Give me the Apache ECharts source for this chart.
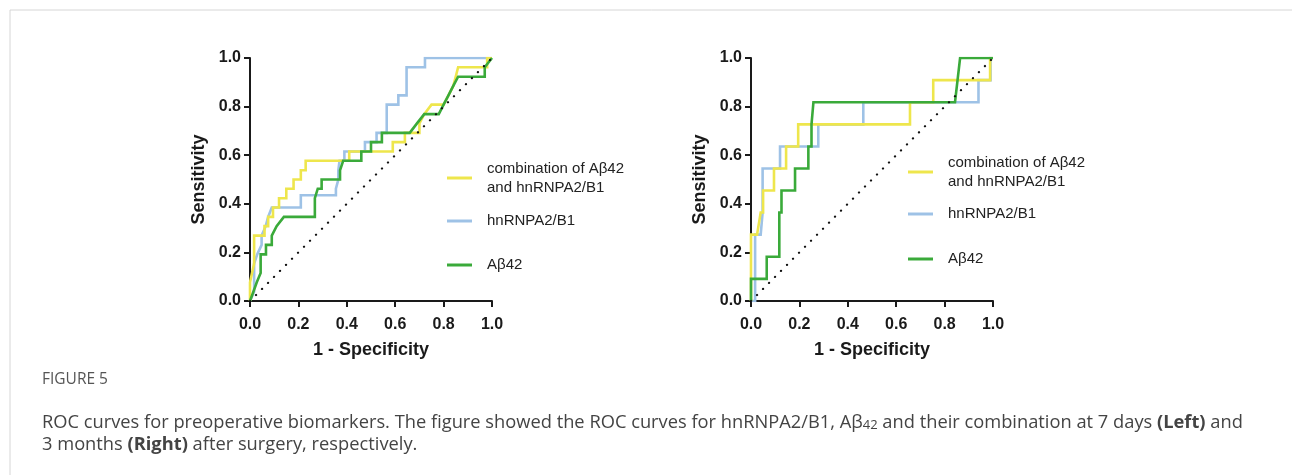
<!DOCTYPE html>
<html><head><meta charset="utf-8">
<script src="https://cdn.jsdelivr.net/npm/echarts@6/dist/echarts.min.js"></script>
<style>html,body{margin:0;padding:0;background:#fff}#c{width:1292px;height:475px}</style>
</head><body><div id="c"></div>
<script>
// ---- data: ROC points [1 - specificity, sensitivity] ----
const xTicks = [0, 0.2, 0.4, 0.6, 0.8, 1.0];
const yTicks = [0, 0.2, 0.4, 0.6, 0.8, 1.0];
const seriesNames = ['combination of A\u03b242\nand hnRNPA2/B1', 'hnRNPA2/B1', 'A\u03b242'];
const refLine = [[0, 0], [1, 1]];

// Left panel: 7 days
const leftCombination = [[0,0],[0,0.077],[0.017,0.154],[0.017,0.269],[0.06,0.269],[0.06,0.308],[0.075,0.308],[0.075,0.346],[0.095,0.346],[0.095,0.385],[0.12,0.385],[0.12,0.423],[0.15,0.423],[0.15,0.462],[0.18,0.462],[0.18,0.5],[0.21,0.5],[0.21,0.538],[0.23,0.538],[0.23,0.577],[0.41,0.577],[0.41,0.615],[0.59,0.615],[0.59,0.654],[0.64,0.654],[0.64,0.692],[0.7,0.692],[0.7,0.731],[0.72,0.769],[0.75,0.808],[0.8,0.808],[0.82,0.846],[0.84,0.885],[0.85,0.923],[0.86,0.962],[0.98,0.962],[0.98,1],[1,1]];
const leftHnRNP = [[0,0],[0.017,0.038],[0.017,0.154],[0.03,0.192],[0.048,0.231],[0.048,0.269],[0.065,0.308],[0.075,0.346],[0.09,0.385],[0.21,0.385],[0.21,0.435],[0.355,0.435],[0.355,0.462],[0.365,0.5],[0.365,0.538],[0.37,0.577],[0.39,0.577],[0.39,0.615],[0.475,0.615],[0.475,0.654],[0.523,0.654],[0.523,0.692],[0.565,0.692],[0.565,0.808],[0.613,0.808],[0.613,0.846],[0.647,0.846],[0.647,0.962],[0.723,0.962],[0.723,1],[1,1]];
const leftAbeta = [[0,0],[0.014,0.038],[0.028,0.077],[0.044,0.115],[0.044,0.192],[0.066,0.192],[0.066,0.231],[0.09,0.231],[0.09,0.269],[0.11,0.308],[0.14,0.346],[0.268,0.346],[0.268,0.423],[0.28,0.462],[0.296,0.462],[0.296,0.5],[0.372,0.5],[0.372,0.538],[0.385,0.577],[0.46,0.577],[0.46,0.615],[0.5,0.615],[0.5,0.654],[0.545,0.654],[0.545,0.692],[0.66,0.692],[0.69,0.731],[0.72,0.769],[0.78,0.769],[0.8,0.808],[0.82,0.846],[0.84,0.885],[0.86,0.923],[0.97,0.923],[0.97,0.962],[1,1]];

// Right panel: 3 months
const rightCombination = [[0,0],[0,0.273],[0.025,0.273],[0.04,0.364],[0.05,0.364],[0.05,0.455],[0.095,0.455],[0.095,0.545],[0.145,0.545],[0.145,0.636],[0.195,0.636],[0.195,0.727],[0.657,0.727],[0.657,0.818],[0.753,0.818],[0.753,0.909],[0.988,0.909],[0.988,1],[1,1]];
const rightHnRNP = [[0,0],[0.017,0],[0.017,0.273],[0.04,0.273],[0.048,0.364],[0.048,0.545],[0.12,0.545],[0.12,0.636],[0.278,0.636],[0.278,0.727],[0.464,0.727],[0.464,0.818],[0.94,0.818],[0.94,0.909],[0.99,0.909],[0.99,1],[1,1]];
const rightAbeta = [[0,0],[0,0.091],[0.065,0.091],[0.065,0.182],[0.117,0.182],[0.117,0.364],[0.126,0.364],[0.126,0.455],[0.182,0.455],[0.182,0.545],[0.237,0.545],[0.237,0.636],[0.25,0.636],[0.25,0.727],[0.258,0.727],[0.258,0.818],[0.843,0.818],[0.864,1],[0.988,1],[1,1]];

const colors = ['#eee64c', '#9ec2e6', '#3aaa3a'];
const FONT = '"Liberation Sans", Arial, sans-serif';
const CAP = '"Open Sans", sans-serif';

function axisX(gi) {
  return {
    gridIndex: gi, type: 'value', min: 0, max: 1, interval: 0.2,
    name: '1 - Specificity', nameLocation: 'middle', nameGap: 40,
    nameTextStyle: {fontFamily: FONT, fontWeight: 'bold', fontSize: 18, color: '#1a1a1a'},
    axisLine: {show: true, lineStyle: {color: '#1a1a1a', width: 2}},
    axisTick: {show: true, length: 6, lineStyle: {color: '#1a1a1a', width: 2}},
    axisLabel: {margin: 16, fontFamily: FONT, fontWeight: 'bold', fontSize: 16, color: '#1a1a1a',
      formatter: v => v.toFixed(1)},
    splitLine: {show: false}
  };
}
function axisY(gi) {
  return {
    gridIndex: gi, type: 'value', min: 0, max: 1, interval: 0.2,
    name: 'Sensitivity', nameLocation: 'middle', nameGap: 42,
    nameTextStyle: {fontFamily: FONT, fontWeight: 'bold', fontSize: 18, color: '#1a1a1a'},
    axisLine: {show: true, lineStyle: {color: '#1a1a1a', width: 2}},
    axisTick: {show: true, length: 6, lineStyle: {color: '#1a1a1a', width: 2}},
    axisLabel: {margin: 9, fontFamily: FONT, fontWeight: 'bold', fontSize: 16, color: '#1a1a1a',
      formatter: v => v.toFixed(1)},
    splitLine: {show: false}
  };
}
function curve(data, ci, gi, z) {
  return {type: 'line', data: data, xAxisIndex: gi, yAxisIndex: gi, showSymbol: false, symbol: 'none',
    silent: true, z: z, lineStyle: {color: colors[ci], width: 2.6, join: 'miter'}, animation: false};
}
function diag(gi) {
  return {type: 'line', data: refLine, xAxisIndex: gi, yAxisIndex: gi, symbol: 'none', silent: true, z: 10,
    lineStyle: {color: '#111', width: 2.2, type: [0.1, 8.4], cap: 'round'}, animation: false};
}
function legend(x, ys) {
  const els = [];
  for (let i = 0; i < 3; i++) {
    const ly = ys[i] + (i === 0 ? 8 : 0);
    els.push({type: 'line', shape: {x1: x, y1: ly, x2: x + 25, y2: ly},
      style: {stroke: colors[i], lineWidth: 3}});
    els.push({type: 'text', x: x + 40, y: ly,
      style: {text: seriesNames[i], font: '15px ' + FONT, fill: '#222', textVerticalAlign: 'middle', lineHeight: 19}});
  }
  return els;
}

const chart = echarts.init(document.getElementById('c'), null, {renderer: 'canvas'});
chart.setOption({
  animation: false,
  grid: [
    {left: 250, top: 58, width: 242, height: 243},
    {left: 751, top: 58, width: 242, height: 243}
  ],
  xAxis: [axisX(0), axisX(1)],
  yAxis: [axisY(0), axisY(1)],
  series: [
    curve(leftHnRNP, 1, 0, 2), curve(leftCombination, 0, 0, 3), curve(leftAbeta, 2, 0, 4), diag(0),
    curve(rightHnRNP, 1, 1, 2), curve(rightCombination, 0, 1, 3), curve(rightAbeta, 2, 1, 4), diag(1)
  ],
  graphic: [
    {type: 'rect', shape: {x: 10, y: 10, width: 1300, height: 500}, style: {fill: 'none', stroke: '#d6d6d6', lineWidth: 1}, silent: true},
    ...legend(447, [170, 221, 265]),
    ...legend(908, [164, 214, 259]),
    {type: 'text', x: 42, y: 380, style: {text: 'FIGURE 5', font: '15.5px ' + CAP, fill: '#555', textVerticalAlign: 'middle'}},
    {type: 'text', x: 42, y: 410, style: {
      text: '{n|ROC curves for preoperative biomarkers. The figure showed the ROC curves for hnRNPA2/B1, A\u03b2}{s|42}{n| and their combination at 7 days }{b|(Left)}{n| and}\n{n|3 months }{b|(Right)}{n| after surgery, respectively.}',
      rich: {
        n: {fontFamily: CAP, fontSize: 18.3, fill: '#444', lineHeight: 22, verticalAlign: 'bottom'},
        b: {fontFamily: CAP, fontSize: 18.3, fontWeight: 'bold', fill: '#444', lineHeight: 22, verticalAlign: 'bottom'},
        s: {fontFamily: CAP, fontSize: 13, fill: '#444', lineHeight: 22, verticalAlign: 'bottom'}
      }
    }}
  ]
});
</script></body></html>
